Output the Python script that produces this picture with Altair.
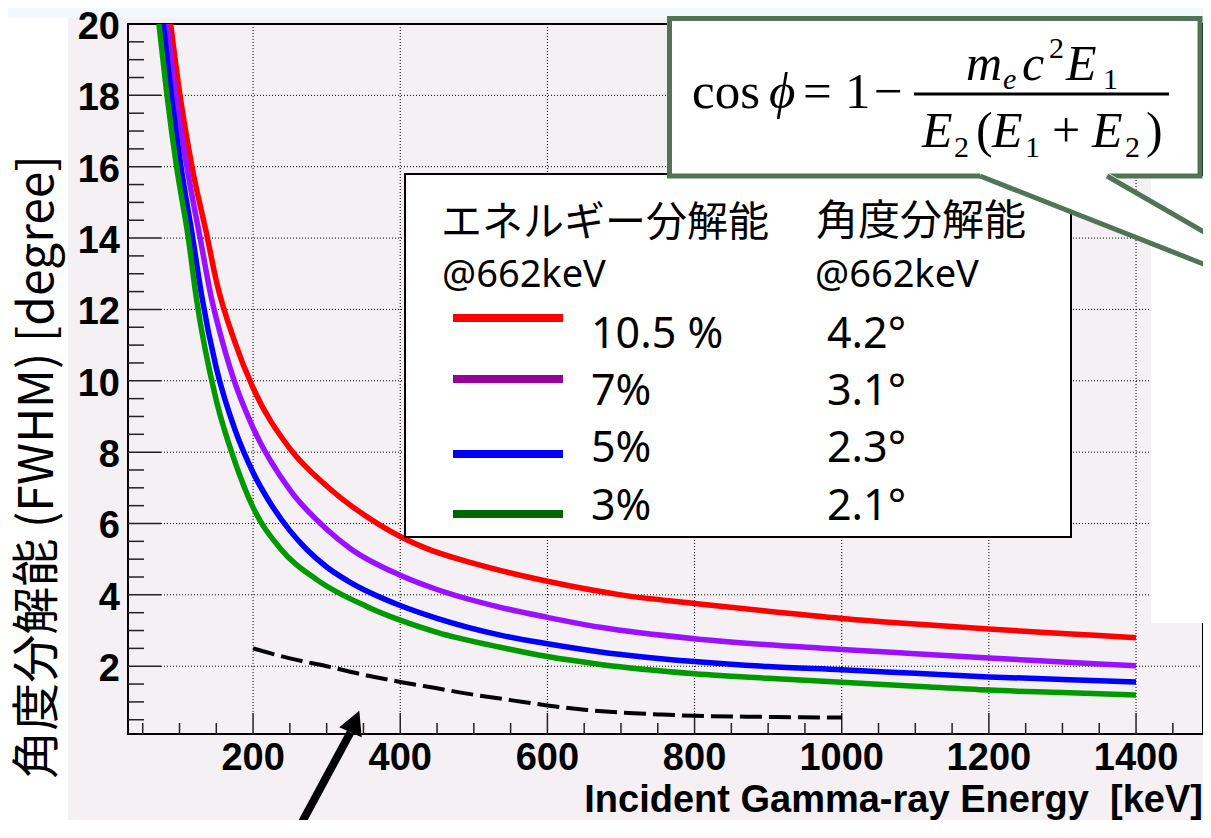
import altair as alt
import pandas as pd

# ---------------- data ----------------
SERIES = ["10.5%", "7%", "5%", "3%"]

E_RED = [88, 100, 117, 138, 150, 175, 200, 250, 300, 373, 432, 500, 600, 700, 800, 900, 1000, 1100, 1200, 1300, 1400]
A_RED = [20, 18.1, 16, 14, 12.8, 11.1, 9.8, 8.1, 7.05, 5.95, 5.33, 4.88, 4.38, 4.0, 3.76, 3.54, 3.34, 3.18, 3.04, 2.92, 2.8]

E_PURPLE = [83, 95, 110, 128, 144, 150, 175, 200, 250, 300, 332, 400, 450, 536, 600, 672, 800, 900, 1000, 1100, 1200, 1300, 1400]
A_PURPLE = [20, 18, 16, 14, 12.26, 11.75, 9.96, 8.68, 6.94, 5.84, 5.3, 4.55, 4.15, 3.65, 3.37, 3.09, 2.77, 2.6, 2.47, 2.35, 2.23, 2.12, 2.01]

E_BLUE = [78, 89, 102, 118, 130, 150, 175, 200, 225, 250, 273, 300, 332, 400, 450, 536, 600, 672, 800, 900, 1000, 1100, 1200, 1300, 1400]
A_BLUE = [20, 18, 16, 14, 12.4, 10.36, 8.65, 7.43, 6.52, 5.8, 5.27, 4.78, 4.35, 3.7, 3.34, 2.87, 2.63, 2.4, 2.13, 1.99, 1.9, 1.8, 1.7, 1.63, 1.56]

E_GREEN = [72, 83, 96, 112, 123, 150, 175, 200, 237, 287, 355, 400, 450, 536, 600, 672, 800, 900, 1000, 1100, 1200, 1300, 1400]
A_GREEN = [20, 18, 16, 14, 12.3, 9.45, 7.75, 6.45, 5.3, 4.42, 3.67, 3.29, 2.95, 2.53, 2.27, 2.05, 1.79, 1.66, 1.55, 1.44, 1.33, 1.26, 1.19]

E_DASH = [200, 250, 300, 350, 400, 450, 500, 550, 600, 650, 700, 750, 800, 900, 1000]
A_DASH = [2.5, 2.22, 2.0, 1.76, 1.56, 1.38, 1.2, 1.05, 0.9, 0.78, 0.7, 0.65, 0.61, 0.58, 0.56]

ENERGY_RES = ["10.5 %", "7%", "5%", "3%"]
ANGLE_RES = ["4.2°", "3.1°", "2.3°", "2.1°"]

X_MAJOR = [200, 400, 600, 800, 1000, 1200, 1400]
X_MINOR = [v for v in range(50, 1500, 50) if v % 200 != 0]
Y_MAJOR = [2, 4, 6, 8, 10, 12, 14, 16, 18, 20]
Y_GRID = [2, 4, 6, 8, 10, 12, 14, 16, 18]
Y_TICK_MAJOR = [2, 4, 6, 8, 10, 12, 14, 16, 18]
Y_MINOR = [v / 2 for v in range(1, 40) if v % 4 != 0]

X_TITLE = "Incident Gamma-ray Energy\u00a0 [keV]"
Y_TITLE = "角度分解能 (FWHM) [degree]"

# ---------------- styling ----------------
W, H = 1075, 710
PINK = "#f4f0f4"
GREEN_BOX = "#527456"
CURVE_COLORS = ["#ff0000", "#9a10ff", "#0000ff", "#009a00"]
LEGEND_COLORS = ["#ff0000", "#990099", "#0000ff", "#006600"]
TICK_FONT = "Liberation Sans"

XS = alt.Scale(domain=[30, 1491], nice=False, zero=False)
YS = alt.Scale(domain=[0.1, 20], nice=False, zero=False)

ONE = pd.DataFrame({"k": [0]})

rows = []
for name, es, vals in zip(SERIES, [E_RED, E_PURPLE, E_BLUE, E_GREEN], [A_RED, A_PURPLE, A_BLUE, A_GREEN]):
    for e, a in zip(es, vals):
        rows.append({"E": e, "deg": a, "series": name})
curves_df = pd.DataFrame(rows)
dash_df = pd.DataFrame({"E": E_DASH, "deg": A_DASH})


def rect(x, x2, y, y2, fill, stroke=None, sw=0):
    kw = dict(fill=fill, clip=False)
    if stroke:
        kw.update(stroke=stroke, strokeWidth=sw)
    return alt.Chart(ONE).mark_rect(**kw).encode(
        x=alt.value(x), x2=alt.value(x2), y=alt.value(y), y2=alt.value(y2))


def seg(x, y, x2, y2, color, sw, cap="butt"):
    return alt.Chart(ONE).mark_rule(color=color, strokeWidth=sw, strokeCap=cap, clip=False).encode(
        x=alt.value(x), x2=alt.value(x2), y=alt.value(y), y2=alt.value(y2))


def label(text, x, y, size, font="Noto Sans", weight="normal", style="normal",
          align="left", baseline="middle", angle=0, color="black"):
    kw = dict(text=text, font=font, fontSize=size, fontWeight=weight, fontStyle=style,
              align=align, baseline=baseline, color=color, clip=False)
    if angle:
        kw["angle"] = angle
    return alt.Chart(ONE).mark_text(**kw).encode(x=alt.value(x), y=alt.value(y))


def poly(xs, tops, bots, color):
    df = pd.DataFrame({"px": xs, "top": tops, "bot": bots})
    return alt.Chart(df).mark_area(color=color, clip=False, opacity=1).encode(
        x=alt.X("px:Q", scale=None, axis=None),
        y=alt.Y("top:Q", scale=None, axis=None),
        y2="bot:Q")


layers = []

# background strips (outside the ROOT canvas)
layers.append(rect(-130, -60, -20, 830, "white"))
layers.append(rect(-130, 1100, -20, -6, "#f3f8fc"))

# grid
layers.append(alt.Chart(pd.DataFrame({"v": X_MAJOR})).mark_rule(
    color="black", strokeWidth=1, strokeDash=[1, 2]).encode(
    x=alt.X("v:Q", scale=XS, axis=None), y=alt.value(0), y2=alt.value(H - 21)))
layers.append(alt.Chart(pd.DataFrame({"v": Y_GRID})).mark_rule(
    color="black", strokeWidth=1, strokeDash=[1, 2]).encode(
    y=alt.Y("v:Q", scale=YS, axis=None), x=alt.value(33), x2=alt.value(W)))

# inward ticks
layers.append(alt.Chart(pd.DataFrame({"v": X_MAJOR})).mark_rule(color="#222", strokeWidth=1.5).encode(
    x=alt.X("v:Q", scale=XS, axis=None), y=alt.value(H - 21), y2=alt.value(H)))
layers.append(alt.Chart(pd.DataFrame({"v": X_MINOR})).mark_rule(color="#222", strokeWidth=1.5).encode(
    x=alt.X("v:Q", scale=XS, axis=None), y=alt.value(H - 11), y2=alt.value(H)))
layers.append(alt.Chart(pd.DataFrame({"v": Y_TICK_MAJOR})).mark_rule(color="#222", strokeWidth=1.5).encode(
    y=alt.Y("v:Q", scale=YS, axis=None), x=alt.value(0), x2=alt.value(33)))
layers.append(alt.Chart(pd.DataFrame({"v": Y_MINOR})).mark_rule(color="#222", strokeWidth=1.5).encode(
    y=alt.Y("v:Q", scale=YS, axis=None), x=alt.value(0), x2=alt.value(16)))

# tick labels (drawn through the scales)
layers.append(alt.Chart(pd.DataFrame({"v": X_MAJOR})).mark_text(
    font=TICK_FONT, fontWeight="bold", fontSize=38, color="black", baseline="middle", clip=False).encode(
    x=alt.X("v:Q", scale=XS, axis=None), y=alt.value(H + 25), text=alt.Text("v:Q", format="d")))
layers.append(alt.Chart(pd.DataFrame({"v": Y_MAJOR})).mark_text(
    font=TICK_FONT, fontWeight="bold", fontSize=38, color="black", baseline="middle", align="right",
    dy=4, clip=False).encode(
    y=alt.Y("v:Q", scale=YS, axis=None), x=alt.value(-8), text=alt.Text("v:Q", format="d")))

# curves
layers.append(alt.Chart(curves_df).mark_line(strokeWidth=5.5, clip=True, interpolate="monotone").encode(
    x=alt.X("E:Q", scale=XS, axis=None),
    y=alt.Y("deg:Q", scale=YS, axis=None),
    color=alt.Color("series:N", scale=alt.Scale(domain=SERIES, range=CURVE_COLORS), legend=None),
    detail="series:N"))
layers.append(alt.Chart(dash_df).mark_line(strokeWidth=4, color="black", strokeDash=[22, 7],
                                           clip=True, interpolate="monotone").encode(
    x=alt.X("E:Q", scale=XS, axis=None), y=alt.Y("deg:Q", scale=YS, axis=None)))

# white panel at right edge
layers.append(rect(1023, 1090, 152, 599, "white"))

# legend box
layers.append(rect(277, 943, 150, 513, "white", "black", 2))
layers.append(label("エネルギー分解能", 313, 200, 41, font="Noto Sans CJK JP"))
layers.append(label("角度分解能", 688, 198, 42, font="Noto Sans CJK JP"))
layers.append(label("@662keV", 314, 252, 38))
layers.append(label("@662keV", 687, 252, 38))
LINE_Y = [294, 355, 430, 490]
TEXT_Y = [311, 368, 425, 483]
for i in range(4):
    layers.append(seg(325, LINE_Y[i], 435, LINE_Y[i], LEGEND_COLORS[i], 8))
    layers.append(label(ENERGY_RES[i], 463, TEXT_Y[i], 43))
    layers.append(label(ANGLE_RES[i], 699, TEXT_Y[i], 43))

# callout with formula
layers.append(rect(541.5, 1072, -5.5, 152, "white", GREEN_BOX, 5))
layers.append(poly([852, 979, 1112], [148, 148, 228.7], [152, 202, 254.4], "white"))
layers.append(seg(852, 152, 1112, 254.4, GREEN_BOX, 5))
layers.append(seg(979, 152, 1112, 228.7, GREEN_BOX, 5))

SERIF = "Liberation Serif"
BL_MAIN, BL_NUM, BL_DEN = 84, 56, 123
layers.append(label("cos", 564, BL_MAIN, 51, font=SERIF, baseline="alphabetic"))
layers.append(label("ϕ", 641, BL_MAIN, 51, font=SERIF, style="italic", baseline="alphabetic"))
layers.append(label("=", 675, BL_MAIN, 51, font=SERIF, baseline="alphabetic"))
layers.append(label("1", 717, BL_MAIN, 51, font=SERIF, baseline="alphabetic"))
layers.append(label("−", 746, BL_MAIN, 51, font=SERIF, baseline="alphabetic"))
layers.append(seg(786, 70, 1041, 70, "black", 3))
# numerator
layers.append(label("m", 838, BL_NUM, 50, font=SERIF, style="italic", baseline="alphabetic"))
layers.append(label("e", 875, BL_NUM + 9, 30, font=SERIF, style="italic", baseline="alphabetic"))
layers.append(label("c", 894, BL_NUM, 50, font=SERIF, style="italic", baseline="alphabetic"))
layers.append(label("2", 921, BL_NUM - 22, 30, font=SERIF, baseline="alphabetic"))
layers.append(label("E", 938, BL_NUM, 50, font=SERIF, style="italic", baseline="alphabetic"))
layers.append(label("1", 975, BL_NUM + 9, 30, font=SERIF, baseline="alphabetic"))
# denominator
layers.append(label("E", 794, BL_DEN, 50, font=SERIF, style="italic", baseline="alphabetic"))
layers.append(label("2", 826, BL_DEN + 10, 30, font=SERIF, baseline="alphabetic"))
layers.append(label("(", 848, BL_DEN, 50, font=SERIF, baseline="alphabetic"))
layers.append(label("E", 864, BL_DEN, 50, font=SERIF, style="italic", baseline="alphabetic"))
layers.append(label("1", 897, BL_DEN + 10, 30, font=SERIF, baseline="alphabetic"))
layers.append(label("+", 924, BL_DEN, 50, font=SERIF, baseline="alphabetic"))
layers.append(label("E", 964, BL_DEN, 50, font=SERIF, style="italic", baseline="alphabetic"))
layers.append(label("2", 997, BL_DEN + 10, 30, font=SERIF, baseline="alphabetic"))
layers.append(label(")", 1018, BL_DEN, 50, font=SERIF, baseline="alphabetic"))

# arrow pointing at the dashed curve
layers.append(seg(159, 826, 222.5, 708.3, "black", 8))
layers.append(poly([211.3, 231.3, 233.7], [703.3, 686.7, 713.3], [703.3, 712.2, 713.3], "black"))

# axis titles
layers.append(label(X_TITLE, 1075, 788, 38, font=TICK_FONT, weight="bold",
                    align="right", baseline="alphabetic"))
layers.append(label(Y_TITLE, -89, 443, 48, font="Noto Sans CJK JP", align="center", angle=270))

chart = alt.layer(*layers).properties(
    width=W, height=H,
    autosize=alt.AutoSizeParams(type="none"),
    padding={"left": 120, "top": 16, "right": 0, "bottom": 86},
    background=PINK,
).configure_view(
    fill=PINK, stroke="black", strokeWidth=2
)

chart.save("out.html", embed_options={"renderer": "svg", "actions": False})
